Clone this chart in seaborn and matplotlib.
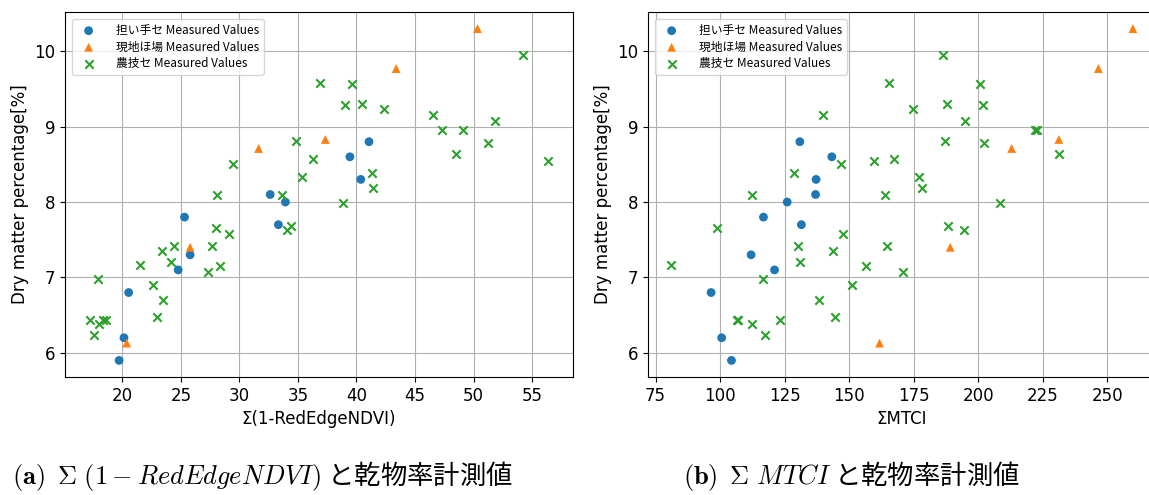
import matplotlib
matplotlib.use("Agg")
import matplotlib.pyplot as plt
import seaborn as sns

# 担い手セ
ninaite_y = [5.90, 6.20, 6.80, 7.10, 7.80, 7.30, 8.10, 7.70, 8.00, 8.60, 8.30, 8.80]
ninaite_ndvi = [19.72, 20.14, 20.54, 24.77, 25.31, 25.79, 32.63, 33.33, 33.93, 39.44, 40.37, 41.07]
ninaite_mtci = [104.4, 100.6, 96.5, 121.1, 116.8, 112.0, 137.0, 131.5, 126.0, 143.3, 137.2, 130.9]

# 現地ほ場
genchi_y = [6.13, 7.40, 8.71, 8.83, 9.77, 10.30]
genchi_ndvi = [20.37, 25.79, 31.64, 37.34, 43.39, 50.34]
genchi_mtci = [161.8, 189.2, 213.0, 231.3, 246.6, 260.0]

# 農技セ
nougi_y = [6.43, 6.24, 6.98, 6.38, 6.43, 6.44, 7.17, 6.90, 6.47, 7.35, 6.70, 7.21, 7.42, 7.07,
           7.42, 7.65, 8.10, 7.15, 7.58, 8.50, 8.09, 7.63, 7.68, 8.81, 8.33, 8.57, 9.58, 7.99,
           9.29, 9.56, 9.30, 8.38, 8.18, 9.23, 9.15, 8.95, 8.64, 8.95, 8.78, 9.07, 9.95, 8.55]
nougi_ndvi = [17.26, 17.60, 17.91, 17.97, 18.33, 18.62, 21.47, 22.63, 22.97, 23.36, 23.47, 24.12, 24.41, 27.34,
              27.68, 28.02, 28.11, 28.33, 29.15, 29.46, 33.67, 34.07, 34.41, 34.83, 35.37, 36.27, 36.86, 38.84,
              39.04, 39.60, 40.51, 41.36, 41.41, 42.37, 46.55, 47.34, 48.50, 49.12, 51.24, 51.81, 54.21, 56.38]
nougi_mtci = [106.46, 117.32, 116.67, 112.41, 106.85, 123.26, 81.0, 151.05, 144.72, 143.94, 138.26, 130.89, 130.37, 170.96,
              164.62, 98.97, 112.28, 156.61, 147.82, 146.92, 163.72, 194.61, 188.15, 187.11, 177.16, 167.34, 165.27, 208.44,
              201.85, 200.56, 188.02, 128.69, 178.20, 174.71, 139.81, 221.88, 231.19, 222.79, 202.24, 194.74, 186.34, 159.84]

labels = ["担い手セ Measured Values", "現地ほ場 Measured Values", "農技セ Measured Values"]
xlabels = ["Σ(1-RedEdgeNDVI)", "ΣMTCI"]
captions = [r"$\mathbf{(a)}$  $\Sigma\ (1 - RedEdgeNDVI)$ と乾物率計測値",
            r"$\mathbf{(b)}$  $\Sigma\ MTCI$ と乾物率計測値"]

plt.rcParams["mathtext.fontset"] = "cm"

W, H = 1149, 495
fig = plt.figure(figsize=(W / 100, H / 100), dpi=100)
ax1 = fig.add_axes([65 / W, 1 - 377 / H, 508 / W, 365 / H])
ax2 = fig.add_axes([648 / W, 1 - 377 / H, 508 / W, 365 / H])

legend_font = {"family": ["Noto Sans CJK JP", "DejaVu Sans"], "size": 8.5}

for ax, xs, xl in [(ax1, (ninaite_ndvi, genchi_ndvi, nougi_ndvi), xlabels[0]),
                   (ax2, (ninaite_mtci, genchi_mtci, nougi_mtci), xlabels[1])]:
    ax.set_axisbelow(True)
    ax.grid(True, color="#b0b0b0", linewidth=0.8)
    sns.scatterplot(x=xs[0], y=ninaite_y, ax=ax, marker="o", color="tab:blue",
                    s=40, linewidth=0, edgecolor="none", label=labels[0], legend=False)
    sns.scatterplot(x=xs[1], y=genchi_y, ax=ax, marker="^", color="tab:orange",
                    s=40, linewidth=0, edgecolor="none", label=labels[1], legend=False)
    sns.scatterplot(x=xs[2], y=nougi_y, ax=ax, marker="x", color="tab:green",
                    s=36, linewidth=1.5, label=labels[2], legend=False)
    ax.set_xlabel(xl, fontsize=12)
    ax.set_ylabel("Dry matter percentage[%]", fontsize=12)
    ax.tick_params(labelsize=12)
    ax.legend(loc="upper left", prop=legend_font, labelspacing=0.3,
              handletextpad=1.3, borderaxespad=0.6)

ax1.set_xticks([20, 25, 30, 35, 40, 45, 50, 55])
ax2.set_xticks([75, 100, 125, 150, 175, 200, 225, 250])
ax1.set_xlim(15.1, 58.5)
ax2.set_xlim(72.05, 268.95)

cap_font = ["Noto Sans CJK JP", "DejaVu Sans"]
fig.text(12 / W, 1 - 476 / H, captions[0], fontsize=19, family=cap_font, va="center")
fig.text(683 / W, 1 - 476 / H, captions[1], fontsize=19, family=cap_font, va="center")

fig.savefig("out.png", dpi=100)
